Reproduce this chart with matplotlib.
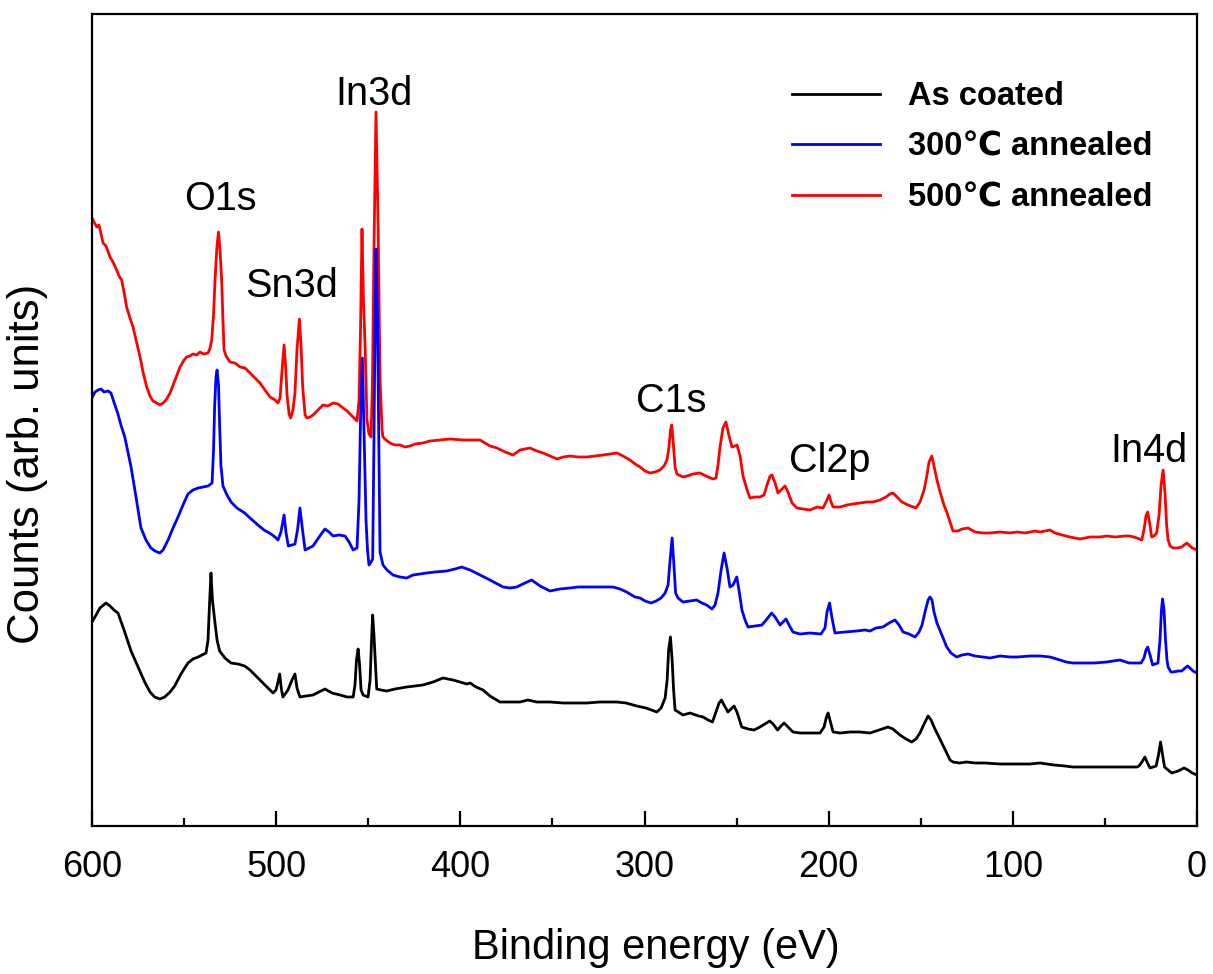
import matplotlib
matplotlib.use("Agg")
import matplotlib.pyplot as plt
from matplotlib.ticker import MultipleLocator

# ---------------- data (binding energy in eV, counts in arb. units) ----------------
red_E = [600.0, 598.9, 597.4, 596.2, 594.0, 592.4, 590.2, 588.6, 586.6, 585.3, 583.9, 582.6, 581.2, 579.4,
         577.7, 576.1, 573.9, 572.3, 570.3, 568.5, 566.9, 564.9, 563.1, 561.4, 559.8, 557.6, 554.9, 552.2,
         550.0, 548.6, 546.8, 545.2, 543.1, 541.4, 539.2, 537.0, 535.9, 535.0, 534.0, 533.2, 532.1, 531.3,
         530.5, 529.6, 528.9, 528.3, 527.2, 525.1, 522.4, 519.6, 516.9, 514.2, 511.5, 508.8, 506.1, 503.3,
         500.6, 499.0, 497.9, 496.8, 495.7, 494.9, 494.1, 493.0, 492.1, 490.9, 489.8, 488.7, 487.4, 486.5,
         485.6, 484.3, 483.3, 481.6, 480.0, 477.3, 474.6, 471.9, 469.1, 466.4, 463.7, 461.5, 458.8, 456.1,
         455.0, 454.2, 453.4, 452.6, 451.7, 450.7, 449.6, 448.5, 447.7, 446.9, 445.8, 444.7, 443.6, 442.5,
         442.0, 440.4, 438.2, 435.5, 432.8, 430.0, 427.3, 424.6, 420.3, 416.5, 411.0, 405.6, 398.5, 394.7,
         389.3, 383.9, 380.1, 375.7, 371.4, 367.6, 362.2, 358.4, 355.1, 351.3, 347.5, 344.2, 340.5, 336.1,
         331.2, 326.8, 322.5, 318.7, 314.9, 311.7, 307.9, 305.1, 302.4, 299.7, 297.0, 294.3, 291.6, 289.4,
         287.8, 286.7, 285.9, 285.2, 284.5, 283.4, 282.4, 279.1, 276.9, 273.7, 269.9, 266.6, 262.8, 261.2,
         260.1, 259.0, 257.4, 255.8, 254.2, 252.5, 250.9, 249.8, 248.1, 246.5, 244.3, 242.7, 240.0, 237.3,
         235.1, 233.5, 231.8, 230.8, 229.1, 227.5, 225.9, 223.7, 222.1, 219.9, 217.2, 213.9, 210.1, 206.3,
         203.1, 201.4, 199.8, 198.7, 197.6, 193.8, 190.0, 186.8, 183.0, 179.2, 175.9, 172.1, 168.9, 166.7,
         165.1, 163.4, 160.2, 156.9, 152.6, 150.4, 148.2, 146.6, 145.5, 144.0, 142.8, 141.2, 139.5, 137.4,
         135.7, 134.1, 132.5, 129.8, 127.6, 124.3, 120.5, 116.2, 112.4, 106.9, 101.5, 97.7, 93.4, 87.9,
         85.2, 79.8, 77.1, 73.3, 69.0, 63.5, 58.1, 52.7, 48.9, 44.5, 39.1, 36.4, 32.6, 30.0,
         28.8, 27.7, 26.8, 25.8, 24.6, 23.4, 21.9, 20.6, 19.5, 18.4, 17.3, 16.5, 15.7, 14.6,
         13.0, 10.8, 8.3, 7.0, 5.5, 4.3, 2.6, 0.0]
red_C = [608, 604, 599, 601, 583, 580, 569, 564, 556, 550, 546, 534, 519, 508,
         499, 486, 469, 454, 439, 430, 425, 423, 421, 423, 426, 433, 446, 459,
         466, 469, 470, 472, 471, 474, 472, 473, 478, 486, 511, 546, 581, 594,
         576, 546, 506, 476, 470, 464, 463, 459, 458, 453, 448, 443, 436, 429,
         426, 423, 428, 456, 481, 461, 431, 412, 408, 416, 433, 476, 507, 481,
         439, 411, 408, 409, 411, 416, 421, 420, 423, 422, 418, 415, 410, 405,
         426, 496, 597, 526, 479, 406, 392, 389, 446, 576, 714, 606, 446, 396,
         389, 386, 383, 381, 381, 379, 380, 382, 383, 385, 386, 387, 386, 386,
         386, 380, 378, 374, 371, 376, 378, 375, 373, 370, 367, 369, 370, 369,
         369, 370, 371, 372, 373, 370, 366, 362, 359, 355, 353, 354, 356, 360,
         366, 379, 396, 401, 386, 359, 352, 349, 350, 352, 353, 350, 347, 348,
         361, 379, 398, 404, 391, 379, 380, 381, 370, 350, 336, 328, 329, 329,
         331, 341, 350, 351, 343, 333, 336, 340, 334, 323, 318, 317, 316, 319,
         318, 324, 331, 324, 319, 319, 321, 322, 323, 324, 324, 326, 329, 332,
         333, 330, 324, 321, 318, 324, 336, 351, 364, 370, 360, 346, 334, 321,
         313, 304, 295, 295, 297, 298, 294, 293, 293, 294, 293, 294, 293, 295,
         294, 296, 293, 291, 289, 287, 289, 289, 290, 289, 290, 290, 288, 286,
         296, 310, 314, 304, 289, 290, 293, 311, 341, 356, 331, 301, 286, 280,
         278, 278, 279, 281, 283, 281, 278, 276]

blue_E = [600.0, 598.4, 596.7, 595.1, 593.5, 591.3, 589.7, 588.1, 585.9, 584.3, 582.2, 580.5, 578.8, 576.1,
          573.4, 570.7, 568.0, 565.8, 563.2, 561.4, 558.7, 556.0, 553.3, 550.6, 547.9, 545.2, 542.4, 539.7,
          537.0, 534.8, 534.0, 533.4, 532.7, 532.1, 531.3, 530.7, 530.0, 528.9, 526.7, 524.5, 521.3, 517.1,
          514.2, 509.9, 506.6, 502.8, 500.6, 499.0, 497.4, 495.7, 494.7, 493.4, 491.4, 489.8, 488.4, 487.1,
          485.7, 484.3, 482.2, 480.0, 476.7, 473.5, 471.3, 469.1, 465.9, 462.6, 460.4, 458.2, 456.1, 455.0,
          454.2, 453.2, 452.3, 451.2, 450.4, 449.6, 448.5, 447.6, 446.9, 446.3, 445.8, 445.0, 444.2, 443.6,
          442.0, 439.8, 436.6, 432.8, 429.1, 425.7, 421.9, 418.3, 413.8, 407.4, 402.9, 399.3, 394.7, 389.3,
          383.9, 376.8, 373.0, 369.4, 364.9, 361.3, 356.7, 351.3, 345.9, 340.5, 336.1, 331.4, 324.2, 317.1,
          313.3, 309.7, 305.2, 302.4, 299.7, 296.5, 293.7, 291.0, 288.8, 287.2, 286.1, 285.0, 284.2, 283.1,
          281.8, 279.1, 275.3, 271.7, 268.8, 266.3, 263.3, 261.7, 260.1, 258.4, 256.8, 255.2, 253.6, 251.9,
          249.9, 248.7, 247.1, 245.4, 243.8, 240.0, 236.2, 233.5, 231.0, 229.1, 226.4, 224.8, 223.2, 221.5,
          219.4, 215.6, 210.1, 204.2, 202.0, 200.9, 199.5, 198.2, 196.6, 191.1, 184.8, 180.3, 177.6, 174.3,
          170.5, 167.2, 164.0, 161.8, 159.6, 156.4, 153.1, 150.9, 149.3, 147.7, 146.0, 145.0, 143.9, 142.8,
          141.2, 139.0, 135.9, 133.6, 130.5, 127.6, 124.3, 120.5, 116.2, 112.4, 106.9, 101.5, 97.7, 90.7,
          85.2, 79.8, 74.4, 71.1, 67.3, 60.8, 55.9, 49.0, 45.6, 41.8, 36.9, 33.6, 30.4, 28.8,
          27.7, 26.8, 25.5, 24.1, 22.8, 21.2, 20.1, 19.3, 18.7, 17.9, 17.1, 16.3, 15.7, 14.1,
          13.0, 10.3, 8.3, 6.5, 5.1, 3.8, 2.2, 0.0]
blue_C = [428, 434, 436, 437, 434, 435, 433, 424, 412, 401, 389, 374, 359, 329,
          298, 286, 278, 275, 273, 276, 286, 298, 309, 321, 332, 336, 338, 339,
          340, 343, 376, 420, 448, 456, 441, 401, 361, 340, 331, 324, 318, 313,
          308, 301, 296, 292, 289, 286, 294, 311, 294, 280, 281, 282, 296, 318,
          296, 276, 278, 280, 289, 297, 294, 290, 291, 290, 284, 276, 278, 326,
          406, 468, 396, 305, 276, 261, 264, 267, 386, 506, 577, 506, 376, 274,
          261, 256, 251, 249, 248, 251, 252, 253, 254, 255, 257, 259, 256, 251,
          246, 239, 238, 239, 243, 246, 240, 235, 237, 238, 239, 239, 239, 239,
          237, 234, 229, 228, 225, 223, 225, 228, 233, 241, 266, 288, 266, 233,
          228, 224, 225, 226, 223, 221, 217, 221, 233, 256, 273, 258, 239, 241,
          249, 236, 216, 206, 199, 200, 201, 207, 213, 209, 201, 204, 207, 201,
          194, 192, 193, 192, 198, 214, 223, 208, 193, 194, 195, 196, 195, 198,
          199, 203, 206, 201, 194, 192, 189, 194, 201, 214, 226, 229, 226, 214,
          203, 193, 179, 173, 169, 171, 172, 170, 169, 168, 170, 169, 169, 170,
          170, 169, 166, 164, 163, 163, 163, 164, 165, 166, 163, 163, 163, 168,
          176, 179, 171, 161, 162, 163, 186, 216, 227, 216, 186, 166, 159, 154,
          154, 155, 155, 158, 160, 158, 155, 153]

black_E = [600.0, 597.8, 595.7, 592.4, 590.2, 588.1, 585.9, 582.6, 578.8, 575.0, 571.4, 568.5, 566.0, 563.1,
           560.5, 557.6, 555.1, 551.7, 547.9, 545.2, 542.4, 540.3, 538.1, 537.0, 536.2, 535.4, 534.6, 533.4,
           532.1, 530.7, 527.8, 524.5, 520.7, 517.1, 514.2, 509.9, 506.1, 501.7, 500.1, 499.0, 498.1, 497.1,
           496.3, 493.6, 491.4, 489.8, 488.7, 487.1, 483.8, 480.0, 476.7, 473.5, 469.7, 465.3, 461.5, 458.2,
           457.2, 456.4, 455.5, 454.7, 453.9, 452.8, 450.1, 449.0, 448.2, 447.6, 446.9, 445.4, 443.1, 440.0,
           435.5, 429.1, 424.6, 420.3, 414.8, 409.4, 406.7, 404.0, 400.2, 396.5, 394.7, 391.5, 387.7, 383.9,
           378.5, 373.0, 367.6, 363.3, 358.5, 351.3, 344.2, 337.7, 331.4, 324.2, 315.1, 310.0, 304.2, 299.2,
           293.3, 291.0, 288.8, 287.7, 286.9, 285.9, 285.0, 284.2, 283.4, 279.1, 275.3, 270.6, 268.2, 265.5,
           263.1, 261.2, 259.5, 258.2, 256.8, 254.7, 253.0, 251.4, 249.8, 247.2, 243.8, 240.5, 237.3, 234.6,
           232.0, 230.2, 227.7, 225.9, 224.2, 222.1, 219.4, 215.6, 210.1, 204.7, 202.5, 201.2, 200.3, 199.3,
           197.6, 193.8, 188.4, 183.0, 177.5, 172.7, 167.8, 165.1, 161.3, 158.0, 154.9, 152.6, 150.4, 148.2,
           146.0, 144.4, 142.8, 141.2, 139.0, 135.9, 134.1, 132.5, 129.0, 125.1, 120.5, 115.1, 106.9, 98.8,
           90.7, 85.2, 77.6, 71.7, 67.3, 60.8, 55.9, 49.0, 43.2, 37.4, 32.7, 31.5, 29.9, 28.3,
           26.9, 25.5, 23.9, 22.2, 20.9, 19.8, 18.7, 17.6, 15.7, 13.7, 10.3, 7.0, 4.9, 2.6, 0.0]
black_C = [204, 211, 218, 223, 220, 216, 213, 196, 175, 159, 144, 134, 129, 127,
           129, 134, 140, 152, 163, 167, 169, 171, 173, 186, 221, 253, 226, 206,
           186, 175, 168, 163, 162, 160, 156, 148, 141, 133, 136, 144, 152, 136,
           129, 136, 146, 152, 138, 129, 130, 131, 134, 137, 133, 131, 129, 129,
           141, 166, 177, 161, 136, 131, 129, 146, 186, 211, 191, 137, 136, 135,
           137, 139, 140, 141, 144, 148, 147, 146, 144, 142, 143, 139, 136, 130,
           124, 124, 124, 126, 124, 124, 123, 123, 123, 124, 124, 123, 120, 118,
           114, 118, 128, 146, 176, 189, 166, 136, 116, 111, 113, 110, 109, 106,
           104, 114, 123, 126, 121, 114, 117, 120, 114, 99, 97, 96, 99, 102,
           105, 102, 96, 100, 103, 99, 94, 93, 93, 93, 99, 109, 113, 106,
           94, 93, 94, 94, 93, 96, 99, 97, 91, 87, 84, 87, 93, 102,
           110, 106, 99, 93, 85, 73, 66, 64, 63, 64, 63, 63, 62, 62,
           62, 63, 61, 60, 59, 59, 59, 59, 59, 59, 59, 60, 64, 69,
           63, 58, 59, 60, 71, 84, 71, 59, 56, 53, 55, 58, 56, 53, 51]

series_labels = ["As coated", "300\u2103 annealed", "500\u2103 annealed"]
peak_labels = ["O1s", "In3d", "Sn3d", "C1s", "Cl2p", "In4d"]
peak_label_E = [530.5, 446.9, 491.4, 285.6, 199.3, 26.1]
peak_label_C = [616, 721, 529, 414, 354, 364]

x_ticks = [600, 500, 400, 300, 200, 100, 0]

# ---------------- figure ----------------
fam = ["Liberation Sans", "DejaVu Sans"]
plt.rcParams["font.family"] = fam

fig = plt.figure(figsize=(12.13, 9.74), dpi=100)
ax = fig.add_axes([92 / 1213, 1 - 826 / 974, (1197 - 92) / 1213, (826 - 14) / 974])

lw = 2.0
l_red, = ax.plot(red_E, red_C, color="#FF0000", lw=lw)
l_blue, = ax.plot(blue_E, blue_C, color="#0000FF", lw=lw)
l_black, = ax.plot(black_E, black_C, color="#000000", lw=lw)

ax.set_xlim(600, 0)
ax.set_ylim(0, 812)
ax.set_xticks(x_ticks)
ax.xaxis.set_minor_locator(MultipleLocator(50))
ax.set_yticks([])
ax.tick_params(axis="x", which="major", direction="in", length=11, width=1.6,
               labelsize=26, pad=17)
ax.tick_params(axis="x", which="minor", direction="in", length=6, width=1.6)
for s in ax.spines.values():
    s.set_linewidth(1.6)

ax.set_xlabel("Binding energy (eV)", fontsize=30)
ax.xaxis.set_label_coords(0.51, -0.126)
ax.set_ylabel("Counts (arb. units)", fontsize=31.5)
ax.yaxis.set_label_coords(-0.040, 0.446)

for t, e, c in zip(peak_labels, peak_label_E, peak_label_C):
    ax.text(e, c, t, fontsize=28.5, ha="center", va="baseline")

leg = ax.legend([l_black, l_blue, l_red], series_labels,
                loc="upper left", bbox_to_anchor=(792 / 1213, 1 - 81 / 974),
                bbox_transform=fig.transFigure, frameon=False,
                prop={"family": fam, "weight": "bold", "size": 23.5},
                handlelength=2.7, handletextpad=0.86, labelspacing=0.6,
                borderpad=0, borderaxespad=0)

fig.savefig("out.png", dpi=100)
